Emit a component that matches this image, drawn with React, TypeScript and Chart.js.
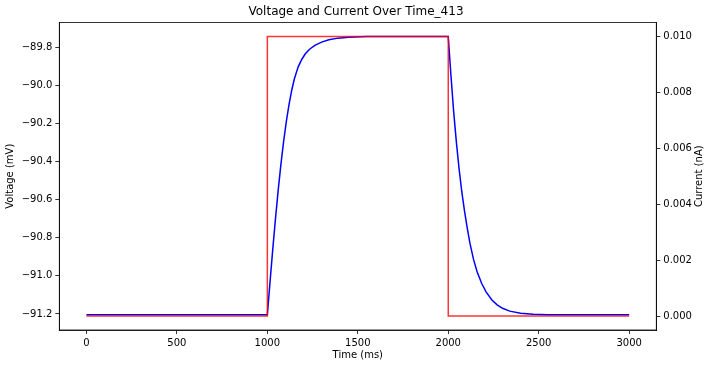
import React, { useEffect, useRef } from "react";
import { Chart, registerables } from "chart.js";

Chart.register(...registerables);

const TITLE = "Voltage and Current Over Time_413";
const X_LABEL = "Time (ms)";
const Y_LABEL = "Voltage (mV)";
const Y1_LABEL = "Current (nA)";

const TIME_V = [
  0, 500, 1000, 1015, 1030, 1045, 1060, 1075, 1090, 1105, 1120, 1135, 1150, 1170, 1190, 1210, 1235, 1265,
  1300, 1340, 1390, 1450, 1550, 1700, 1850, 2000, 2015, 2030, 2045, 2060, 2075, 2090, 2105, 2120, 2140,
  2160, 2185, 2210, 2240, 2270, 2300, 2340, 2400, 2470, 2550, 2700, 3000,
];
const VOLTAGE = [
  -91.204, -91.204, -91.204, -91.03, -90.86, -90.7, -90.55, -90.415, -90.295, -90.19, -90.1, -90.025,
  -89.965, -89.905, -89.865, -89.835, -89.81, -89.79, -89.774, -89.762, -89.753, -89.748, -89.745, -89.744,
  -89.744, -89.745, -89.95, -90.14, -90.3, -90.44, -90.56, -90.66, -90.75, -90.83, -90.915, -90.98, -91.04,
  -91.085, -91.125, -91.152, -91.17, -91.185, -91.196, -91.201, -91.204, -91.204, -91.204,
];

const TIME_I = [0, 1000, 1000, 2000, 2000, 3000];
const CURRENT = [0, 0, 0.01, 0.01, 0, 0];

const TIME_TICKS = [0, 500, 1000, 1500, 2000, 2500, 3000];
const VOLTAGE_TICKS = [-91.2, -91.0, -90.8, -90.6, -90.4, -90.2, -90.0, -89.8];
const CURRENT_TICKS = [0, 0.002, 0.004, 0.006, 0.008, 0.01];

const FONT = "'DejaVu Sans', sans-serif";

export default function App() {
  const canvasRef = useRef<HTMLCanvasElement | null>(null);

  useEffect(() => {
    document.body.style.margin = "0";
    const canvas = canvasRef.current;
    if (!canvas) return;

    const framePlugin = {
      id: "frame",
      afterDatasetsDraw(chart: any) {
        const { ctx, chartArea: a } = chart;
        ctx.save();
        ctx.strokeStyle = "#000";
        ctx.lineWidth = 0.8;
        ctx.strokeRect(a.left, a.top, a.right - a.left, a.bottom - a.top);
        ctx.restore();
      },
      afterDraw(chart: any) {
        const { ctx, chartArea: a } = chart;
        ctx.save();
        ctx.fillStyle = "#000";
        ctx.font = `10px ${FONT}`;
        ctx.textAlign = "center";
        ctx.textBaseline = "middle";
        ctx.translate(699.5, (a.top + a.bottom) / 2);
        ctx.rotate(-Math.PI / 2);
        ctx.fillText(Y1_LABEL, 0, 0);
        ctx.restore();
      },
    };

    const tickFont = { family: FONT, size: 10 };
    const gridCfg = {
      display: true,
      drawOnChartArea: false,
      drawTicks: true,
      tickLength: 4,
      tickColor: "#000",
      tickWidth: 0.8,
    };

    const chart = new Chart(canvas, {
      type: "line",
      data: {
        datasets: [
          {
            label: "Voltage",
            data: TIME_V.map((t, i) => ({ x: t, y: VOLTAGE[i] })),
            borderColor: "#0000ff",
            borderWidth: 1.5,
            pointRadius: 0,
            tension: 0,
            yAxisID: "y",
            order: 2,
          },
          {
            label: "Current",
            data: TIME_I.map((t, i) => ({ x: t, y: CURRENT[i] })),
            borderColor: "rgba(255,0,0,0.8)",
            borderWidth: 1.5,
            pointRadius: 0,
            tension: 0,
            yAxisID: "y1",
            order: 1,
          },
        ],
      },
      options: {
        responsive: true,
        maintainAspectRatio: false,
        animation: false,
        events: [],
        layout: { padding: 0 },
        plugins: {
          legend: { display: false },
          tooltip: { enabled: false },
          title: {
            display: true,
            text: TITLE,
            color: "#000",
            font: { family: FONT, size: 12, weight: "normal", lineHeight: 1.2 },
            padding: { top: 5, bottom: 3 },
          },
        },
        scales: {
          x: {
            type: "linear",
            min: -150,
            max: 3150,
            grid: gridCfg,
            border: { display: true, color: "#000", width: 0.8 },
            afterBuildTicks: (s: any) => {
              s.ticks = TIME_TICKS.map((v) => ({ value: v }));
            },
            afterFit: (s: any) => {
              s.height = 38;
            },
            ticks: {
              color: "#000",
              font: tickFont,
              padding: 3,
              maxRotation: 0,
              autoSkip: false,
              callback: (v: any) => String(v),
            },
            title: {
              display: true,
              text: X_LABEL,
              color: "#000",
              font: { family: FONT, size: 10, lineHeight: 1.2 },
              padding: { top: 0, bottom: 6.3 },
            },
          },
          y: {
            type: "linear",
            position: "left",
            min: -91.284,
            max: -89.6705,
            grid: gridCfg,
            border: { display: true, color: "#000", width: 0.8 },
            afterBuildTicks: (s: any) => {
              s.ticks = VOLTAGE_TICKS.map((v) => ({ value: v }));
            },
            afterFit: (s: any) => {
              s.width = 59.3;
            },
            ticks: {
              color: "#000",
              font: tickFont,
              padding: 3,
              autoSkip: false,
              callback: (v: any) => (v < 0 ? "\u2212" : "") + Math.abs(Number(v)).toFixed(1),
            },
            title: {
              display: true,
              text: Y_LABEL,
              color: "#000",
              font: { family: FONT, size: 10, lineHeight: 1.2 },
              padding: { top: 4.5, bottom: 0 },
            },
          },
          y1: {
            type: "linear",
            position: "right",
            min: -0.0005,
            max: 0.0105,
            grid: gridCfg,
            border: { display: true, color: "#000", width: 0.8 },
            afterBuildTicks: (s: any) => {
              s.ticks = CURRENT_TICKS.map((v) => ({ value: v }));
            },
            afterFit: (s: any) => {
              s.width = 55.7;
            },
            ticks: {
              color: "#000",
              font: tickFont,
              padding: 3,
              autoSkip: false,
              callback: (v: any) => Number(v).toFixed(3),
            },
          },
        },
      },
      plugins: [framePlugin],
    } as any);

    return () => {
      chart.destroy();
    };
  }, []);

  return (
    <div style={{ width: 712, height: 368, position: "relative" }}>
      <canvas ref={canvasRef} />
    </div>
  );
}
